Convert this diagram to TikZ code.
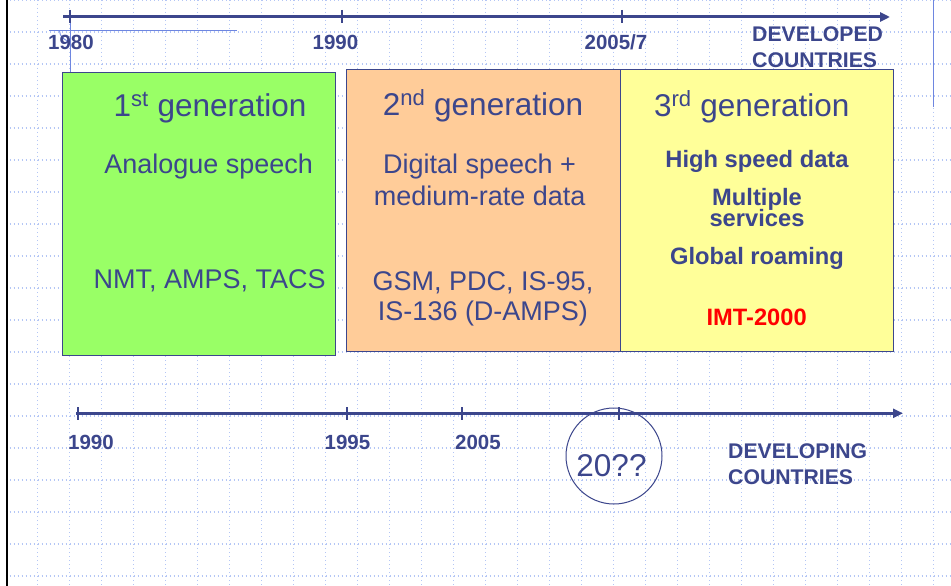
\documentclass[tikz,border=0pt]{standalone}
\usepackage{fontspec}
\setmainfont{Liberation Sans}
\usetikzlibrary{arrows.meta}

\definecolor{ink}{RGB}{60,70,140}
\definecolor{gridblue}{RGB}{180,198,245}
\definecolor{guide}{RGB}{110,134,224}
\definecolor{genone}{RGB}{153,255,102}
\definecolor{gentwo}{RGB}{255,204,153}
\definecolor{genthree}{RGB}{255,255,153}
\definecolor{imtred}{RGB}{255,0,0}

\begin{document}
\begin{tikzpicture}[x=1pt,y=-1pt,
  gridline/.style={gridblue, line width=1.1pt, dash pattern=on 1.3pt off 2.7pt},
  genbox/.style={draw=ink, line width=1.3pt, inner sep=0pt, anchor=north west},
  axisline/.style={ink, line width=3pt, -{Triangle[length=10pt,width=9pt]}},
  tickmark/.style={ink, line width=2.4pt},
  yearlbl/.style={text=ink, font=\bfseries\fontsize{20.5}{24}\selectfont, inner sep=0pt, anchor=base},
  regionlbl/.style={text=ink, font=\bfseries\fontsize{21.2}{25}\selectfont, inner sep=0pt, anchor=base west},
  gentitle/.style={text=ink, font=\fontsize{31.5}{38}\selectfont, inner sep=0pt, anchor=base},
  gentext/.style={text=ink, font=\fontsize{27}{32}\selectfont, inner sep=0pt, anchor=base},
  genbold/.style={text=ink, font=\bfseries\fontsize{23.7}{28}\selectfont, inner sep=0pt, anchor=base},
]
\useasboundingbox (0,0) rectangle (951,586);
\fill[white] (0,0) rectangle (951,586);

% squared paper background
\foreach \i in {1,...,29}
  \draw[gridline] ({5.7+32*\i},0) -- ({5.7+32*\i},586);
\foreach \j in {0,...,18}
  \draw[gridline] (5.7,{32*\j}) -- (951,{32*\j});
\draw[black, line width=2.6pt] (7,0) -- (7,586);
\draw[guide, line width=1.3pt] (933.7,0) -- (933.7,107);

% thin guide lines at the origin of the upper time line
\draw[guide, line width=0.8pt] (49,30.5) -- (237,30.5);
\draw[guide, line width=0.8pt] (70,20) -- (70,72);
\draw[guide, line width=0.8pt] (59.5,30.5) arc[start angle=180, end angle=90, radius=10.5];

% the three generation boxes
\node[genbox, fill=genone, minimum width=273pt, minimum height=283pt] (g1) at (62,72) {};
\node[genbox, fill=gentwo, minimum width=274pt, minimum height=282pt] (g2) at (345.5,69) {};
\node[genbox, fill=genthree, minimum width=273.5pt, minimum height=282pt] (g3) at (619.5,69) {};

% upper time line: developed countries
\coordinate (ta0) at (63,17);
\coordinate (ta1) at (890,17);
\draw[axisline] (ta0) -- (ta1);
\draw[tickmark] (70,10) -- (70,23);
\draw[tickmark] (342,10) -- (342,23);
\draw[tickmark] (622,10) -- (622,23);
\node[yearlbl] (y1980) at (71,50) {1980};
\node[yearlbl] (y1990a) at (335.5,50) {1990};
\node[yearlbl] (y2005a) at (616,50) {2005/7};
\node[regionlbl] (dev1) at (752,41.5) {DEVELOPED};
\node[regionlbl] (dev2) at (752,68) {COUNTRIES};

% lower time line: developing countries
\coordinate (tb0) at (76,413.3);
\coordinate (tb1) at (903,413.3);
\draw[axisline] (tb0) -- (tb1);
\draw[tickmark] (77.7,407) -- (77.7,420);
\draw[tickmark] (346.7,407) -- (346.7,420);
\draw[tickmark] (461.7,407) -- (461.7,420);
\draw[tickmark] (619,407) -- (619,420);
\node[yearlbl] (y1990b) at (91,449) {1990};
\node[yearlbl] (y1995) at (347.5,449) {1995};
\node[yearlbl] (y2005b) at (478,449) {2005};
\node[regionlbl] (dvg1) at (728,458) {DEVELOPING};
\node[regionlbl] (dvg2) at (728,484) {COUNTRIES};
\node[draw=ink, line width=1pt, circle, minimum size=96pt, inner sep=0pt] (unknown) at (614,456) {};
\node[gentitle] (unknownlbl) at (611.5,476.5) {20??};

% box contents
\node[gentitle] (t1) at (210,116) {1\textsuperscript{st} generation};
\node[gentext] (a1) at (208.7,173.5) {Analogue speech};
\node[gentext] (s1) at (209.7,288.3) {NMT, AMPS, TACS};

\node[gentitle] (t2) at (483,115) {2\textsuperscript{nd} generation};
\node[gentext] (a2) at (479.5,173.5) {Digital speech +};
\node[gentext] (b2) at (479.7,205) {medium-rate data};
\node[gentext] (s2) at (483,290) {GSM, PDC, IS-95,};
\node[gentext] (r2) at (483,320) {IS-136 (D-AMPS)};

\node[gentitle] (t3) at (751.7,116) {3\textsuperscript{rd} generation};
\node[genbold] (a3) at (757,167.3) {High speed data};
\node[genbold] (b3) at (757,205) {Multiple};
\node[genbold] (c3) at (757,226.7) {services};
\node[genbold] (d3) at (757,264) {Global roaming};
\node[genbold, text=imtred] (s3) at (756.7,325) {IMT-2000};
\end{tikzpicture}
\end{document}
